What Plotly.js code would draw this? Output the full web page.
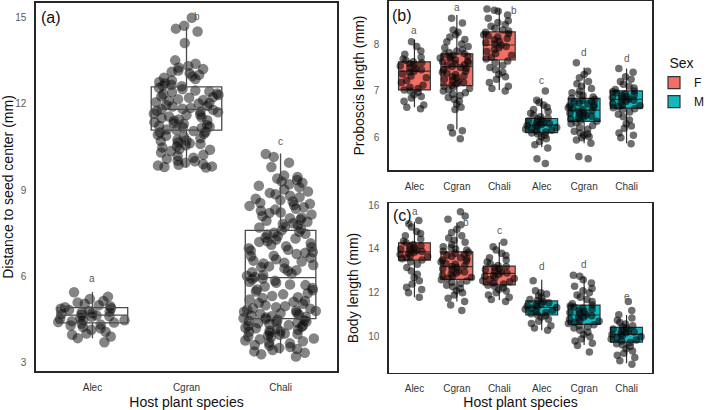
<!DOCTYPE html>
<html>
<head>
<meta charset="utf-8">
<script src="https://cdn.plot.ly/plotly-3.0.1.min.js"></script>
<style>html,body{margin:0;padding:0;background:#fff;}#chart{width:709px;height:410px;}</style>
</head>
<body>
<div id="chart"></div>
<script>
// ---------- categories ----------
const species = ['Alec', 'Cgran', 'Chali'];
const sexes = ['F', 'M'];
const sexColors = {F: '#F26F66', M: '#13B8BF'};

// ---------- panel (a): distance to seed center (mm) ----------
const distAlec = [3.72,3.86,3.92,3.98,4.02,4.08,4.15,4.2,4.25,4.3,4.33,4.36,4.4,4.42,4.45,4.48,4.5,4.53,4.56,4.6,4.62,4.65,4.67,4.7,4.72,4.75,4.78,4.8,4.84,4.88,4.9,4.93,4.97,5.0,5.05,5.1,5.15,5.22,5.3,5.45];
const distCgran = [9.78,9.8,9.82,9.85,9.88,9.9,9.95,10.0,10.02,10.08,10.12,10.18,10.22,10.3,10.35,10.4,10.42,10.48,10.52,10.55,10.6,10.62,10.65,10.7,10.72,10.75,10.8,10.85,10.88,10.92,10.95,11.0,11.02,11.05,11.08,11.1,11.15,11.18,11.2,11.22,11.25,11.3,11.32,11.35,11.4,11.42,11.45,11.5,11.52,11.55,11.6,11.62,11.65,11.7,11.72,11.75,11.78,11.8,11.82,11.85,11.9,11.92,11.95,12.0,12.02,12.05,12.1,12.12,12.15,12.2,12.22,12.25,12.3,12.32,12.35,12.4,12.42,12.45,12.5,12.55,12.6,12.62,12.65,12.7,12.75,12.8,12.85,12.9,12.95,13.0,13.05,13.1,13.15,13.2,13.25,13.3,13.38,13.5,14.1,14.5,14.6,14.7,14.98];
const distChali = [3.22,3.3,3.35,3.4,3.45,3.48,3.52,3.55,3.6,3.62,3.68,3.7,3.75,3.78,3.82,3.85,3.9,3.92,3.95,3.98,4.0,4.02,4.05,4.08,4.1,4.12,4.15,4.18,4.2,4.22,4.25,4.28,4.3,4.32,4.35,4.38,4.4,4.42,4.44,4.46,4.48,4.5,4.52,4.55,4.58,4.6,4.62,4.65,4.68,4.7,4.72,4.75,4.78,4.8,4.82,4.85,4.88,4.9,4.93,4.97,5.0,5.05,5.08,5.12,5.15,5.2,5.25,5.28,5.32,5.38,5.42,5.48,5.52,5.55,5.6,5.65,5.7,5.72,5.78,5.82,5.85,5.9,5.93,5.98,6.02,6.05,6.1,6.15,6.2,6.22,6.28,6.32,6.35,6.4,6.45,6.48,6.52,6.55,6.6,6.65,6.7,6.72,6.78,6.82,6.85,6.9,6.93,6.98,7.02,7.05,7.1,7.15,7.2,7.22,7.28,7.32,7.35,7.4,7.45,7.48,7.52,7.55,7.6,7.65,7.7,7.72,7.78,7.82,7.85,7.9,7.93,7.98,8.02,8.05,8.1,8.15,8.2,8.22,8.28,8.32,8.35,8.4,8.45,8.48,8.52,8.55,8.6,8.65,8.7,8.75,8.8,8.85,8.9,8.95,9.02,9.1,9.15,9.2,9.25,9.3,9.35,9.4,9.45,9.5,9.8,9.95,10.15,10.25];
const distQ1 = [4.39, 11.08, 4.54];
const distMed = [4.66, 11.8, 5.96];
const distQ3 = [4.92, 12.58, 7.6];
const distLo = [3.86, 9.78, 3.33];
const distHi = [5.46, 14.66, 10.27];
const distLetters = ['a', 'b', 'c'];
const distLetterY = [5.94, 15.03, 10.7];

// ---------- panel (b): proboscis length (mm) ----------
const probFAlec = [6.62,6.65,6.7,6.78,6.85,6.88,6.92,6.97,7.0,7.02,7.05,7.08,7.12,7.18,7.22,7.28,7.32,7.36,7.4,7.42,7.45,7.48,7.5,7.53,7.56,7.58,7.6,7.62,7.65,7.68,7.72,7.78,7.85,7.95,8.05];
const probFCgran = [5.98,6.1,6.15,6.22,6.6,6.65,6.72,6.78,6.82,6.86,6.9,6.93,6.96,7.0,7.02,7.05,7.08,7.1,7.12,7.15,7.18,7.2,7.22,7.25,7.28,7.3,7.32,7.35,7.38,7.4,7.42,7.45,7.48,7.5,7.52,7.54,7.56,7.58,7.6,7.62,7.64,7.66,7.68,7.7,7.72,7.74,7.76,7.78,7.8,7.82,7.85,7.88,7.92,7.95,8.0,8.05,8.1,8.15,8.2,8.25,8.3,8.45,8.55];
const probFChali = [7.0,7.05,7.1,7.18,7.25,7.3,7.35,7.4,7.45,7.5,7.55,7.6,7.64,7.68,7.72,7.76,7.8,7.84,7.88,7.92,7.95,7.98,8.0,8.03,8.06,8.09,8.12,8.15,8.18,8.2,8.22,8.25,8.28,8.3,8.34,8.38,8.42,8.46,8.5,8.55,8.62,8.7,8.72,8.75];
const probMAlec = [5.45,5.55,5.78,5.85,5.92,5.98,6.02,6.05,6.08,6.1,6.12,6.14,6.16,6.18,6.2,6.22,6.24,6.26,6.27,6.28,6.3,6.32,6.34,6.36,6.38,6.4,6.42,6.45,6.48,6.52,6.56,6.6,6.65,6.7,6.75,6.8,7.0];
const probMCgran = [5.55,5.6,5.88,5.95,6.0,6.02,6.05,6.08,6.1,6.14,6.18,6.22,6.26,6.3,6.32,6.35,6.37,6.4,6.42,6.44,6.46,6.48,6.5,6.52,6.54,6.56,6.58,6.6,6.62,6.64,6.66,6.68,6.7,6.72,6.74,6.76,6.78,6.8,6.82,6.84,6.87,6.9,6.93,6.96,7.0,7.05,7.1,7.15,7.2,7.28,7.35,7.42,7.6];
const probMChali = [5.87,6.0,6.05,6.1,6.2,6.25,6.3,6.38,6.45,6.5,6.55,6.6,6.62,6.64,6.66,6.68,6.7,6.73,6.76,6.78,6.8,6.82,6.84,6.86,6.88,6.9,6.92,6.94,6.96,6.98,7.0,7.03,7.06,7.1,7.14,7.2,7.25,7.3,7.4,7.48];
const probQ1 = {F: [7.02, 7.11, 7.66], M: [6.11, 6.35, 6.63]};
const probMed = {F: [7.42, 7.52, 7.98], M: [6.27, 6.59, 6.82]};
const probQ3 = {F: [7.62, 7.79, 8.26], M: [6.41, 6.84, 7.0]};
const probLo = {F: [6.65, 6.18, 7.02], M: [5.8, 5.88, 5.88]};
const probHi = {F: [8.09, 8.62, 8.76], M: [6.85, 7.5, 7.48]};
const probLetters = ['a', 'a', 'b', 'c', 'd', 'd'];
const probLetterY = [8.28, 8.78, 8.71, 7.23, 7.82, 7.69];

// ---------- panel (c): body length (mm) ----------
const bodyFAlec = [11.8,12.0,12.15,12.25,12.4,12.55,12.7,12.85,13.0,13.15,13.3,13.42,13.5,13.55,13.6,13.65,13.7,13.75,13.8,13.85,13.88,13.92,13.96,14.0,14.05,14.1,14.15,14.2,14.28,14.35,14.45,14.6,14.7,14.8,15.0,15.15,15.3];
const bodyFCgran = [11.2,11.45,11.6,11.75,11.9,12.0,12.1,12.2,12.28,12.35,12.42,12.48,12.54,12.6,12.65,12.7,12.75,12.8,12.85,12.9,12.95,13.0,13.05,13.1,13.15,13.2,13.25,13.3,13.35,13.4,13.45,13.5,13.55,13.6,13.65,13.7,13.75,13.8,13.85,13.9,13.95,14.0,14.05,14.1,14.2,14.3,14.4,14.5,14.6,14.75,14.9,15.1,15.35,15.5,15.7];
const bodyFChali = [11.6,11.7,11.8,11.9,12.0,12.08,12.15,12.22,12.3,12.35,12.4,12.45,12.5,12.55,12.6,12.65,12.7,12.75,12.8,12.85,12.9,12.95,13.0,13.05,13.1,13.15,13.2,13.25,13.32,13.4,13.5,13.6,13.7,13.8,13.95,14.1,14.3];
const bodyMAlec = [10.3,10.4,10.5,10.6,10.7,10.8,10.9,10.95,11.0,11.05,11.1,11.15,11.2,11.25,11.3,11.33,11.36,11.4,11.45,11.5,11.55,11.6,11.65,11.7,11.78,11.85,11.95,12.0,12.1,12.55];
const bodyMCgran = [9.3,9.6,9.7,9.8,9.9,10.0,10.1,10.2,10.3,10.4,10.45,10.5,10.55,10.6,10.65,10.7,10.75,10.8,10.85,10.9,10.95,11.0,11.05,11.1,11.15,11.2,11.25,11.3,11.35,11.4,11.45,11.5,11.6,11.7,11.8,11.9,12.0,12.1,12.2,12.3,12.45,12.6,12.75,12.8];
const bodyMChali = [8.75,8.9,9.05,9.15,9.25,9.35,9.45,9.55,9.62,9.68,9.74,9.8,9.85,9.9,9.95,10.0,10.05,10.1,10.14,10.18,10.22,10.26,10.3,10.35,10.4,10.45,10.5,10.58,10.65,10.75,10.85,11.0,11.2,11.6];
const bodyQ1 = {F: [13.49, 12.61, 12.36], M: [10.99, 10.56, 9.75]};
const bodyMed = {F: [13.87, 13.19, 12.89], M: [11.34, 10.99, 10.11]};
const bodyQ3 = {F: [14.28, 13.87, 13.22], M: [11.63, 11.44, 10.43]};
const bodyLo = {F: [11.8, 11.6, 11.67], M: [10.3, 9.62, 8.79]};
const bodyHi = {F: [15.24, 15.2, 14.3], M: [12.6, 12.73, 10.99]};
const bodyLetters = ['a', 'b', 'c', 'd', 'd', 'e'];
const bodyLetterY = [15.7, 15.19, 14.86, 13.19, 13.27, 11.82];

// ---------- build ----------
const FONT = 'Liberation Sans, Arial, Helvetica, sans-serif';
const distPts = [distAlec, distCgran, distChali];
const probPts = {F: [probFAlec, probFCgran, probFChali], M: [probMAlec, probMCgran, probMChali]};
const bodyPts = {F: [bodyFAlec, bodyFCgran, bodyFChali], M: [bodyMAlec, bodyMCgran, bodyMChali]};
const sexCats = {};
sexes.forEach(s => { sexCats[s] = species.map(sp => s + ' ' + sp); });
const allCats = sexes.flatMap(s => sexCats[s]);
const allTickText = sexes.flatMap(() => species);

const traces = [];
function pointsTrace(xcat, y, xa, ya, size, width, color) {
  return {type: 'box', x0: xcat, y: y, xaxis: xa, yaxis: ya,
    boxpoints: 'all', jitter: 1, pointpos: 0, width: width,
    fillcolor: 'rgba(0,0,0,0)', line: {width: 0, color: 'rgba(0,0,0,0)'},
    marker: {size: size, color: color, line: {width: 0}},
    showlegend: false, hoverinfo: 'skip'};
}
// panel (a): points below open boxes
species.forEach((sp, i) => traces.push(pointsTrace(sp, distPts[i], 'x', 'y', 10.5, 0.8, 'rgba(10,10,10,0.5)')));
traces.push({type: 'box', x: species, q1: distQ1, median: distMed, q3: distQ3,
  lowerfence: distLo, upperfence: distHi, boxpoints: false, width: 0.75, whiskerwidth: 0,
  fillcolor: 'rgba(0,0,0,0)', line: {color: '#4a4a4a', width: 1.3},
  xaxis: 'x', yaxis: 'y', showlegend: false, hoverinfo: 'skip'});

// panels (b) and (c): filled boxes, then points
[[probQ1, probMed, probQ3, probLo, probHi, probPts, 'x2', 'y2', true],
 [bodyQ1, bodyMed, bodyQ3, bodyLo, bodyHi, bodyPts, 'x3', 'y3', false]].forEach(p => {
  const [Q1, MED, Q3, LO, HI, PTS, xa, ya, leg] = p;
  sexes.forEach(s => {
    traces.push({type: 'box', name: s, legendgroup: s, x: sexCats[s], q1: Q1[s], median: MED[s], q3: Q3[s],
      lowerfence: LO[s], upperfence: HI[s], boxpoints: false, width: 0.75, whiskerwidth: 0,
      fillcolor: sexColors[s], line: {color: '#333333', width: 1.2},
      xaxis: xa, yaxis: ya, showlegend: leg, hoverinfo: 'skip'});
  });
  sexes.forEach(s => {
    species.forEach((sp, i) => traces.push(pointsTrace(sexCats[s][i], PTS[s][i], xa, ya, 7.5, 0.8, 'rgba(5,5,5,0.58)')));
  });
});

// letters
const annotations = [];
const letterStyle = {showarrow: false, font: {family: FONT, size: 10, color: '#5a5a5a'}, yanchor: 'middle'};
const distShift = [0, 10, 0];
species.forEach((sp, i) => annotations.push(Object.assign({x: sp, y: distLetterY[i], xref: 'x', yref: 'y', text: distLetters[i], xshift: distShift[i]}, letterStyle)));
const probShift = [0, 0, 15, 0, 0, 0];
allCats.forEach((c, i) => annotations.push(Object.assign({x: c, y: probLetterY[i], xref: 'x2', yref: 'y2', text: probLetters[i], xshift: probShift[i]}, letterStyle)));
const bodyShift = [1, 9, 0, 0, 0, 0];
allCats.forEach((c, i) => annotations.push(Object.assign({x: c, y: bodyLetterY[i], xref: 'x3', yref: 'y3', text: bodyLetters[i], xshift: bodyShift[i]}, letterStyle)));
// panel tags
[['(a)', 39, 17], ['(b)', 390, 15], ['(c)', 391, 215]].forEach(t => annotations.push({
  text: t[0], xref: 'paper', yref: 'paper', x: t[1] / 709, y: 1 - t[2] / 410,
  xanchor: 'left', yanchor: 'middle', showarrow: false, font: {family: FONT, size: 16, color: '#111'}}));

function xax(domain, cats, ticktext, title) {
  const a = {domain: domain, type: 'category', categoryorder: 'array', categoryarray: cats,
    range: [-0.6, cats.length - 0.4], tickmode: 'array', tickvals: cats, ticktext: ticktext,
    showline: true, mirror: true, linecolor: '#262626', linewidth: 1.6,
    ticks: 'outside', ticklen: 6, tickcolor: 'rgba(0,0,0,0)', showgrid: false, zeroline: false,
    tickfont: {family: FONT, size: 10, color: '#333333'}, automargin: false, fixedrange: true};
  if (title) a.title = {text: title, font: {family: FONT, size: 14, color: '#111'}, standoff: 6};
  return a;
}
function yax(domain, range, tickvals, title) {
  return {domain: domain, range: range, tickvals: tickvals, tickmode: 'array',
    showline: true, mirror: true, linecolor: '#262626', linewidth: 1.6,
    ticks: 'outside', ticklen: 6, tickcolor: 'rgba(0,0,0,0)', showgrid: false, zeroline: false,
    tickfont: {family: FONT, size: 10, color: '#5a5a5a'}, automargin: false, fixedrange: true,
    title: {text: title, font: {family: FONT, size: 14, color: '#111'}, standoff: 6}};
}

const layout = {
  width: 709, height: 410, margin: {l: 0, r: 0, t: 0, b: 0},
  paper_bgcolor: '#fff', plot_bgcolor: '#fff', boxmode: 'overlay',
  font: {family: FONT},
  xaxis: xax([36 / 709, 337 / 709], species, species, 'Host plant species'),
  yaxis: yax([1 - 371 / 410, 1 - 3 / 410], [2.72, 15.49], [3, 6, 9, 12, 15], 'Distance to seed center (mm)'),
  xaxis2: Object.assign(xax([389 / 709, 652 / 709], allCats, allTickText, null), {anchor: 'y2'}),
  yaxis2: Object.assign(yax([1 - 170 / 410, 1 - 1 / 410], [5.31, 8.92], [6, 7, 8], 'Proboscis length (mm)'), {anchor: 'x2'}),
  xaxis3: Object.assign(xax([389 / 709, 652 / 709], allCats, allTickText, 'Host plant species'), {anchor: 'y3'}),
  yaxis3: Object.assign(yax([1 - 372.7 / 410, 1 - 203.3 / 410], [8.36, 16.08], [10, 12, 14, 16], 'Body length (mm)'), {anchor: 'x3'}),
  legend: {x: 1, y: 1 - 50 / 410, xanchor: 'right', yanchor: 'top', bgcolor: 'rgba(0,0,0,0)',
    itemwidth: 30, indentation: 0,
    title: {text: 'Sex', side: 'top center', font: {family: FONT, size: 14, color: '#111'}},
    font: {family: FONT, size: 12, color: '#111'}, tracegroupgap: 0},
  annotations: annotations
};
layout.yaxis.anchor = 'x';
layout.xaxis.anchor = 'y';

Plotly.newPlot('chart', traces, layout, {displayModeBar: false, staticPlot: true});
</script>
</body>
</html>
